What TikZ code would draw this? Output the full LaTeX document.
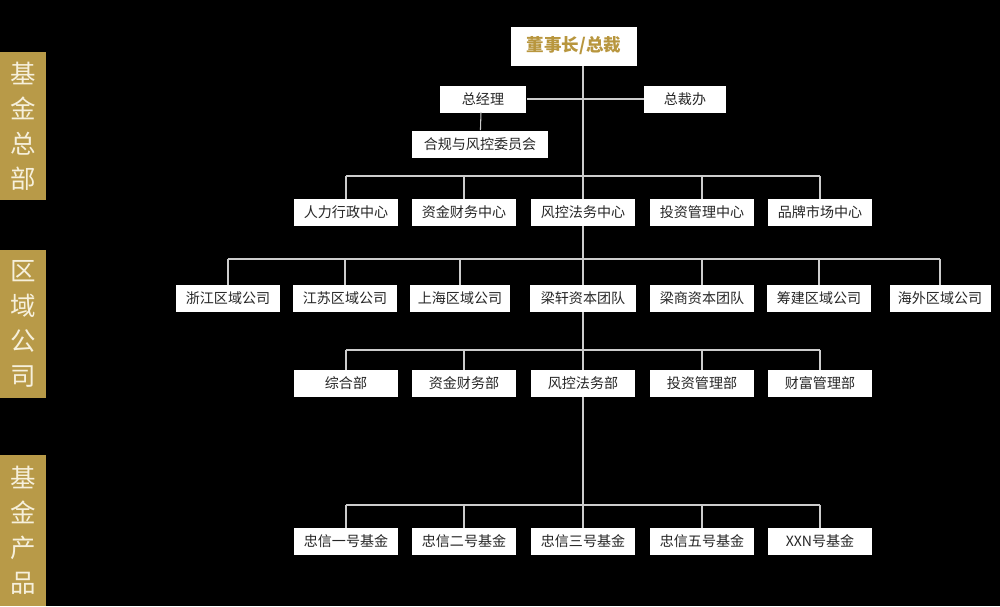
\documentclass[tikz,border=0pt]{standalone}
\usepackage{fontspec}
\setmainfont{Noto Sans CJK SC}
\begin{document}
\begin{tikzpicture}[x=0.02cm,y=-0.02cm,
  box/.style={fill=white,draw=none,inner sep=0pt,minimum height=0.54cm,font=\fontsize{8}{9}\selectfont,text=black!85},
  bar/.style={fill=gold,draw=none,inner sep=0pt,minimum width=0.92cm,text=cream,font=\fontsize{14.5}{20}\selectfont,align=center},
  ln/.style={draw=black!20,line width=0.6pt}]
\definecolor{gold}{HTML}{B89A48}
\definecolor{cream}{HTML}{F6F0DC}
\definecolor{goldtxt}{HTML}{B8963E}
\fill[black] (0,0) rectangle (1000,606);
\useasboundingbox (0,0) rectangle (1000,606);
% side bars
\node[bar,minimum height=2.96cm] (b1) at (23,126) {基\\金\\总\\部};
\node[bar,minimum height=2.96cm] (b2) at (23,324) {区\\域\\公\\司};
\node[bar,minimum height=3.02cm] (b3) at (23,530.5) {基\\金\\产\\品};
% top
\node[box,minimum width=2.52cm,minimum height=0.78cm,font=\fontsize{10}{12}\selectfont\bfseries,text=goldtxt] (top) at (574,46) {董事长/总裁};
\node[box,minimum width=1.74cm] (gm) at (483,99) {总经理};
\node[box,minimum width=1.64cm] (po) at (685,99) {总裁办};
\node[box,minimum width=2.74cm] (hg) at (480,144) {合规与风控委员会};
\coordinate (t0) at (583,66);
\coordinate (tb) at (583,505);
\draw[ln] (t0) -- (tb);
\draw[ln] (gm) -- (po);
\draw[ln] (gm.south) ++(-2,0) coordinate (g1); \draw[ln] (481,112) -- (hg);
% rows
\foreach \n/\x/\t in {c1/346/人力行政中心,c2/464/资金财务中心,c3/583/风控法务中心,c4/702/投资管理中心,c5/820/品牌市场中心}{
  \node[box,minimum width=2.08cm] (\n) at (\x,212.5) {\t};
  \draw[ln] (\n.north) -- (\x,176);}
\draw[ln] (346,176) -- (820,176);
\foreach \n/\x/\w/\t in {r1/228/2.1/浙江区域公司,r2/345/2.08/江苏区域公司,r3/460/2.0/上海区域公司,r4/583/2.12/梁轩资本团队,r5/702/2.08/梁商资本团队,r6/819/2.08/筹建区域公司,r7/940/2.02/海外区域公司}{
  \node[box,minimum width=\w cm] (\n) at (\x,298.5) {\t};
  \draw[ln] (\n.north) -- (\x,259);}
\draw[ln] (228,259) -- (940,259);
\foreach \n/\x/\t in {d1/346/综合部,d2/464/资金财务部,d3/583/风控法务部,d4/702/投资管理部,d5/820/财富管理部}{
  \node[box,minimum width=2.08cm] (\n) at (\x,383.5) {\t};
  \draw[ln] (\n.north) -- (\x,350);}
\draw[ln] (346,350) -- (820,350);
\foreach \n/\x/\t in {f1/346/忠信一号基金,f2/464/忠信二号基金,f3/583/忠信三号基金,f4/702/忠信五号基金,f5/820/XXN号基金}{
  \node[box,minimum width=2.08cm] (\n) at (\x,541.5) {\t};
  \draw[ln] (\n.north) -- (\x,505);}
\draw[ln] (346,505) -- (820,505);
\end{tikzpicture}
\end{document}
